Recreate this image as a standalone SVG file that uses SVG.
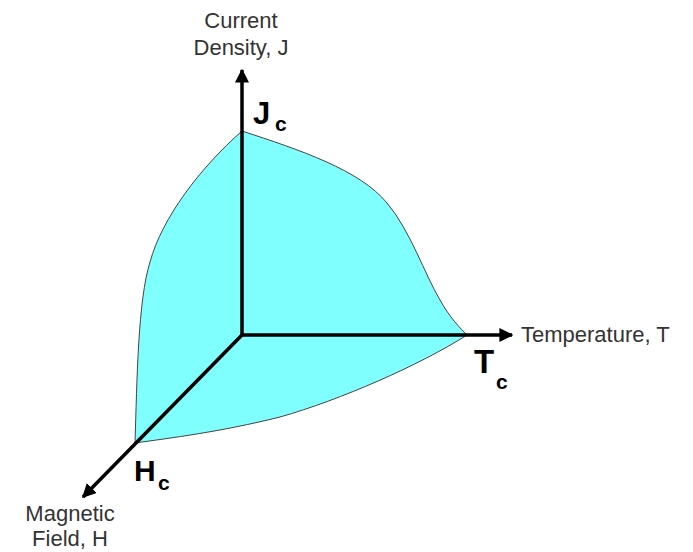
<svg xmlns="http://www.w3.org/2000/svg" width="693" height="552" viewBox="0 0 693 552">
<style>
.lbl{font-family:"Liberation Sans",Arial,sans-serif;font-size:22px;fill:#333}
.big{font-family:"Liberation Sans",Arial,sans-serif;font-weight:bold;fill:#000}
.ax{stroke:#000;stroke-width:3.5;fill:none}
</style>
<defs>
<marker id="ah" viewBox="0 0 10 10" refX="9" refY="5" markerWidth="4" markerHeight="4" orient="auto" markerUnits="strokeWidth">
<path d="M0,0 L10,5 L0,10 z" fill="#000"/>
</marker>
</defs>
<rect width="693" height="552" fill="#fff"/>
<g id="surface">
<path d="M242,131 C300,150 360,170 387,203 C410,230 425,275 440,300 C450,318 460,328 467,335 C420,365 340,400 280,417 C220,432 170,438 135,443 C137,380 138,300 150,262 C162,218 200,168 242,131 Z" fill="#80ffff" stroke="#444" stroke-width="1"/>
</g>
<g id="axes">
<line class="ax" x1="242" y1="335" x2="242" y2="70" marker-end="url(#ah)"/>
<line class="ax" x1="242" y1="335" x2="512" y2="335" marker-end="url(#ah)"/>
<line class="ax" x1="242" y1="335" x2="83" y2="497" marker-end="url(#ah)"/>
</g>
<g id="label-J">
<text class="lbl" x="241" y="28" text-anchor="middle">Current</text>
<text class="lbl" x="241" y="55" text-anchor="middle">Density, J</text>
</g>
<g id="label-T">
<text class="lbl" x="521" y="342">Temperature, T</text>
</g>
<g id="label-H">
<text class="lbl" x="70" y="521" text-anchor="middle" font-size="21">Magnetic</text>
<text class="lbl" x="70" y="546" text-anchor="middle" font-size="21">Field, H</text>
</g>
<g id="Jc">
<text class="big" x="253" y="124" font-size="31">J</text>
<text class="big" x="275" y="131" font-size="21">c</text>
</g>
<g id="Tc">
<text class="big" x="474" y="373" font-size="33">T</text>
<text class="big" x="496" y="389" font-size="21">c</text>
</g>
<g id="Hc">
<text class="big" x="134" y="481" font-size="30">H</text>
<text class="big" x="158" y="490" font-size="21">c</text>
</g>
</svg>
